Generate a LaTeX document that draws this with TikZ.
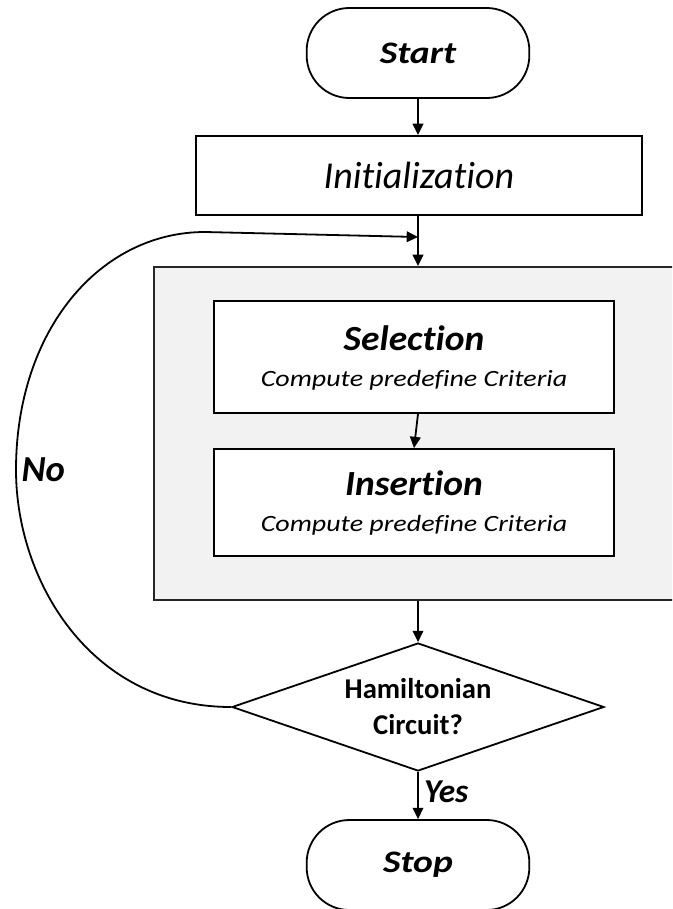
\documentclass[tikz,border=0pt]{standalone}
\usepackage{fontspec}
\setmainfont{Carlito}[Ligatures=NoCommon]
\newfontfamily\widefont{Carlito}[Ligatures=NoCommon, FakeStretch=1.2]
\newfontfamily\midfont{Carlito}[Ligatures=NoCommon, FakeStretch=1.06]
\usetikzlibrary{shapes.geometric,arrows.meta}

\tikzset{
  flow/.style={line width=1.35pt, draw=black},
  arrowline/.style={flow, -{Triangle[length=8.5pt,width=8pt]}},
  terminal/.style={flow, rectangle, rounded corners=32pt, fill=white,
    minimum width=167pt, minimum height=67.5pt, inner sep=0pt},
  procbox/.style={flow, rectangle, fill=white, inner sep=0pt, align=center},
  stagebox/.style={line width=1.5pt, draw=black!85, fill=black!5, rectangle, inner sep=0pt},
  decision/.style={flow, diamond, shape aspect=2.9, fill=white, inner sep=0pt, align=center,
    minimum width=279pt, minimum height=96pt},
  termtext/.style={font=\widefont\bfseries\itshape\fontsize{23.5}{26}\selectfont},
}

\newcommand{\steplabel}[1]{%
  {\midfont\bfseries\itshape\fontsize{26.5}{27}\selectfont #1}\\
  {\widefont\itshape\fontsize{17.5}{20}\selectfont Compute predefine Criteria}}

\begin{document}
\begin{tikzpicture}
  \useasboundingbox (0,0) rectangle (504pt,-681.75pt);
  \clip (0,0) rectangle (504pt,-681.75pt);

  % main stages
  \node[terminal, termtext] (start) at (313.5pt,-39.75pt) {Start};
  \node[procbox, minimum width=334.5pt, minimum height=59.25pt,
        font=\itshape\fontsize{28.5}{32}\selectfont] (init) at (314.25pt,-131.6pt) {Initialization};

  % shaded container for the two heuristic steps
  \node[stagebox, minimum width=409.5pt, minimum height=249.75pt] (stage) at (320.25pt,-325.1pt) {};

  \node[procbox, minimum width=300pt, minimum height=84pt, font=\fontsize{17.5}{27}\selectfont,
        text depth=2pt] (sel) at (310.5pt,-267.75pt) {\steplabel{Selection}};
  \node[procbox, minimum width=300pt, minimum height=80.25pt, font=\fontsize{17.5}{27}\selectfont,
        text depth=2pt] (ins) at (310.5pt,-376.9pt) {\steplabel{Insertion}};

  \node[decision, font=\bfseries\fontsize{21.5}{27}\selectfont] (dec) at (313.5pt,-530.25pt)
    {Hamiltonian\\Circuit?};

  \node[terminal, termtext] (stop) at (313.5pt,-648.75pt) {Stop};

  % connectors
  \coordinate (merge) at (313.5pt,-177.75pt);
  \draw[arrowline] (start) -- (start.south |- init.north);
  \draw[arrowline] (init.south -| start.south) -- (start.south |- stage.north);
  \draw[arrowline] (sel.south -| start.south) -- (ins.north);
  \draw[arrowline] (start.south |- stage.south) -- (dec.north);
  \draw[arrowline] (dec.south) -- (stop.north)
    node[pos=0.42, right=0.5pt, font=\bfseries\itshape\fontsize{25}{26}\selectfont] (yes) {Yes};

  % loop back when no Hamiltonian circuit is found
  \draw[arrowline] (dec.west) .. controls (67.5pt,-530.25pt) and (12pt,-435pt) .. (12pt,-352.5pt)
    .. controls (12pt,-247.5pt) and (75pt,-174pt) .. (153.75pt,-174pt) -- (merge);
  \node[font=\bfseries\itshape\fontsize{27.5}{28}\selectfont] (no) at (32.5pt,-352.5pt) {No};
\end{tikzpicture}
\end{document}
